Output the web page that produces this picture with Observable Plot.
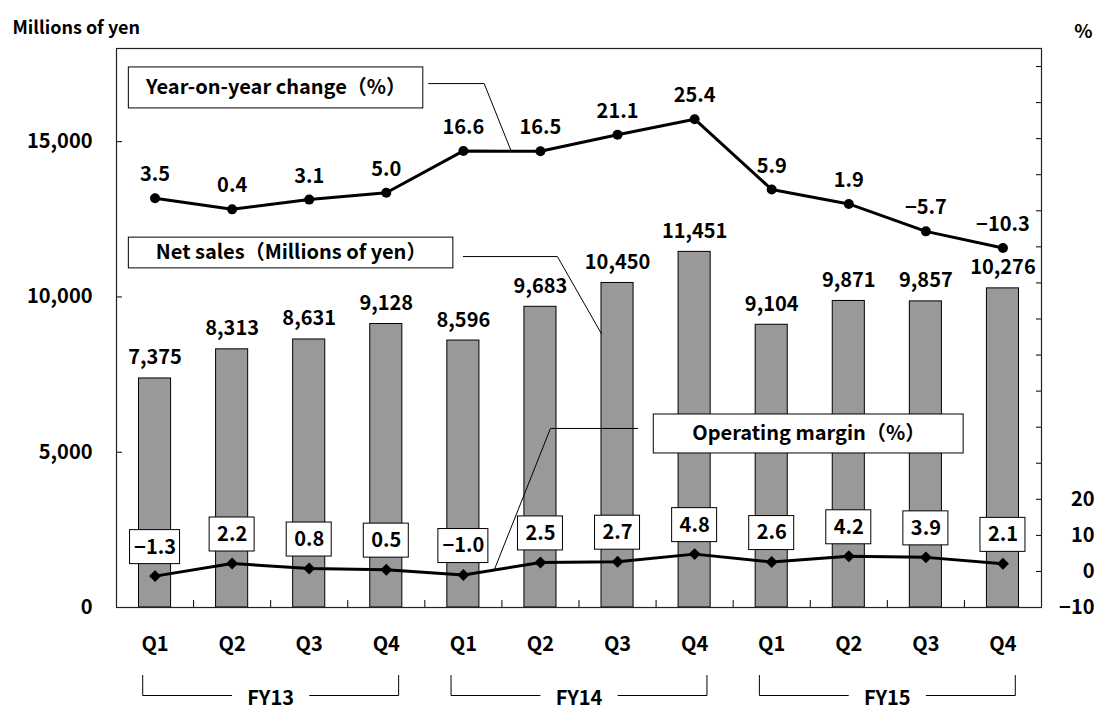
<!DOCTYPE html>
<html>
<head>
<meta charset="utf-8">
<script src="https://cdn.jsdelivr.net/npm/d3@7"></script>
<script src="https://cdn.jsdelivr.net/npm/@observablehq/plot@0.6"></script>
<style>
  body { margin: 0; background: #fff; }
</style>
</head>
<body>
<div id="chart"></div>
<script>
// Quarterly net sales, year-on-year change and operating margin, FY13–FY15
const quarters = ["Q1", "Q2", "Q3", "Q4", "Q1", "Q2", "Q3", "Q4", "Q1", "Q2", "Q3", "Q4"];
const fiscalYears = ["FY13", "FY14", "FY15"];
const netSales = [7375, 8313, 8631, 9128, 8596, 9683, 10450, 11451, 9104, 9871, 9857, 10276];
const yoyChange = [3.5, 0.4, 3.1, 5.0, 16.6, 16.5, 21.1, 25.4, 5.9, 1.9, -5.7, -10.3];
const operatingMargin = [-1.3, 2.2, 0.8, 0.5, -1.0, 2.5, 2.7, 4.8, 2.6, 4.2, 3.9, 2.1];
const salesTicks = [0, 5000, 10000, 15000];
const pctTicks = d3.range(-10, 141, 10);
const pctTickLabels = [-10, 0, 10, 20];

// Layout
const width = 1104, height = 711;
const marginLeft = 116, marginRight = 63, marginTop = 48, marginBottom = 104;
const plotH = height - marginTop - marginBottom;
const plotW = width - marginLeft - marginRight;

// Left axis: millions of yen; right axis: percent
const salesMax = 18000;
const pctMin = -10, pctMax = 145;
const pctUnit = salesMax / (pctMax - pctMin);
const fromPct = p => (p - pctMin) * pctUnit;
const toPct = v => v / pctUnit + pctMin;
// The year-on-year line sits on the right axis as an index (100 + change)
const yoyBase = 100;
// pixel offsets below the baseline, expressed in left-axis units
const below = px => -px * salesMax / plotH;
const xPx = px => px * quarters.length / plotW;

const fmtSales = d3.format(",");
const fmtPct = d3.format(".1f");

const rows = quarters.map((q, i) => ({
  i, q,
  sales: netSales[i],
  yoy: yoyChange[i],
  margin: operatingMargin[i]
}));

// Callout boxes with their leader lines
const callouts = [
  {text: "Year-on-year change（%）", x1: -0.34, x2: 3.48, y1: 16070, y2: 17390,
   leader: [[3.55, 16870], [4.27, 16870], [4.62, fromPct(yoyBase + (yoyChange[4] + yoyChange[5]) / 2)]]},
  {text: "Net sales（Millions of yen）", x1: -0.34, x2: 3.87, y1: 10920, y2: 11910,
   leader: [[4.0, 11300], [5.22, 11300], [5.79, 8820]]},
  {text: "Operating margin（%）", x1: 6.47, x2: 10.49, y1: 4960, y2: 6215,
   leader: [[6.26, 5765], [5.13, 5765], [4.40, fromPct(operatingMargin[4] + 0.4 * (operatingMargin[5] - operatingMargin[4]))]]}
];
const leaderPts = callouts.flatMap((c, k) => c.leader.map(([x, y]) => ({k, x, y})));

// Fiscal-year brackets under the quarter labels, open in the middle for the label
const brackets = fiscalYears.map((fy, k) => ({fy, x1: k * 4 - 0.16, x2: k * 4 + 3 + 0.16, mid: k * 4 + 1.5}));
const gap = xPx(39);
const bracketPts = brackets.flatMap(b => [
  {z: b.fy + "L", x: b.x1, y: below(68)},
  {z: b.fy + "L", x: b.x1, y: below(88)},
  {z: b.fy + "L", x: b.mid - gap, y: below(88)},
  {z: b.fy + "R", x: b.mid + gap, y: below(88)},
  {z: b.fy + "R", x: b.x2, y: below(88)},
  {z: b.fy + "R", x: b.x2, y: below(68)}
]);

const chart = Plot.plot({
  width, height, marginLeft, marginRight, marginTop, marginBottom,
  style: {fontFamily: "'Noto Sans CJK JP', 'Noto Sans', sans-serif", fontSize: "20px", fontWeight: "bold", color: "#000", background: "#fff"},
  x: {type: "linear", domain: [-0.5, quarters.length - 0.5]},
  y: {domain: [0, salesMax]},
  marks: [
    // Net sales bars
    Plot.rectY(rows, {x1: d => d.i - 0.5, x2: d => d.i + 0.5, y1: 0, y2: "sales",
      insetLeft: 22.5, insetRight: 22.5, fill: "#999999", stroke: "#000", strokeWidth: 1}),
    Plot.text(rows, {x: "i", y: "sales", text: d => fmtSales(d.sales), lineAnchor: "bottom", dy: -14}),

    // Axes
    Plot.axisY({anchor: "left", ticks: salesTicks, tickFormat: fmtSales, tickSize: -6, tickPadding: 30, label: null}),
    Plot.axisY({anchor: "right", ticks: pctTicks.map(fromPct), tickSize: -6, tickPadding: 59, textAnchor: "end", label: null,
      tickFormat: v => { const p = Math.round(toPct(v)); return pctTickLabels.includes(p) ? d3.format("d")(p) : ""; }}),
    Plot.axisX({ticks: d3.range(quarters.length), tickFormat: i => quarters[i], tickSize: 0, tickPadding: 29, label: null}),
    Plot.axisX({ticks: d3.range(quarters.length - 1).map(i => i + 0.5), tickFormat: () => "", tickSize: -7, label: null}),
    Plot.frame({stroke: "#222", strokeWidth: 1.2}),

    // Year-on-year change line
    Plot.line(rows, {x: "i", y: d => fromPct(yoyBase + d.yoy), stroke: "#000", strokeWidth: 3}),
    Plot.dot(rows, {x: "i", y: d => fromPct(yoyBase + d.yoy), r: 5, fill: "#000"}),
    Plot.text(rows, {x: "i", y: d => fromPct(yoyBase + d.yoy), text: d => fmtPct(d.yoy), lineAnchor: "bottom", dy: -17}),

    // Operating margin line
    Plot.line(rows, {x: "i", y: d => fromPct(d.margin), stroke: "#000", strokeWidth: 3}),
    Plot.dot(rows, {x: "i", y: d => fromPct(d.margin), r: 5.4, symbol: "diamond2", fill: "#000"}),
    Plot.rect(rows, {
      x1: d => d.i - xPx(fmtPct(d.margin).length > 3 ? 25 : 22.5),
      x2: d => d.i + xPx(fmtPct(d.margin).length > 3 ? 25 : 22.5),
      y1: d => fromPct(d.margin), y2: d => fromPct(d.margin),
      insetTop: -46, insetBottom: 12, fill: "#fff", stroke: "#000", strokeWidth: 1}),
    Plot.text(rows, {x: "i", y: d => fromPct(d.margin), text: d => fmtPct(d.margin), lineAnchor: "middle", dy: -29}),

    // Callouts
    Plot.line(leaderPts, {x: "x", y: "y", z: "k", stroke: "#000", strokeWidth: 1}),
    Plot.rect(callouts, {x1: "x1", x2: "x2", y1: "y1", y2: "y2", fill: "#fff", stroke: "#000", strokeWidth: 1}),
    Plot.text(callouts, {x: d => (d.x1 + d.x2) / 2, y: d => (d.y1 + d.y2) / 2, text: "text", fontSize: 20, lineAnchor: "middle"}),

    // Fiscal-year brackets
    Plot.line(bracketPts, {x: "x", y: "y", z: "z", stroke: "#000", strokeWidth: 1}),
    Plot.text(brackets, {x: "mid", y: below(91), text: "fy", lineAnchor: "middle"}),

    // Axis titles
    Plot.text(["Millions of yen"], {text: d => d, frameAnchor: "top-left", dx: -104, dy: -20, textAnchor: "start", lineAnchor: "middle", fontSize: 18}),
    Plot.text(["%"], {text: d => d, frameAnchor: "top-right", dx: 51, dy: -17, lineAnchor: "middle", fontSize: 19})
  ]
});

document.getElementById("chart").append(chart);
</script>
</body>
</html>
